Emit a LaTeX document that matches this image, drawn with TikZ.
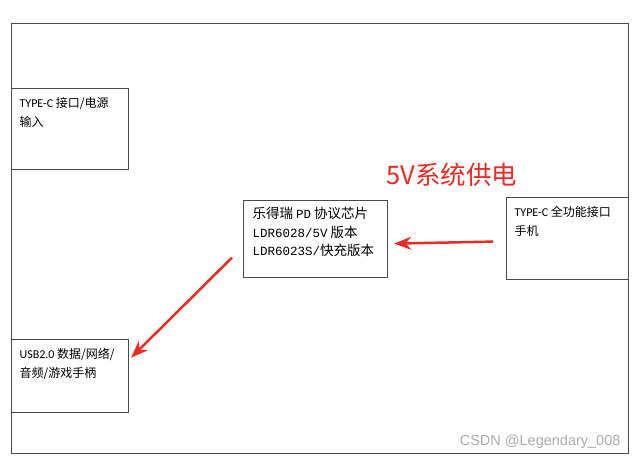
\documentclass[tikz,border=0pt]{standalone}
\usepackage{fontspec}
\setmainfont{Carlito}
\newfontfamily\cjk{Noto Sans CJK SC}
\newfontfamily\mono{Liberation Mono}
\newfontfamily\wmark{Liberation Sans}
\usetikzlibrary{arrows.meta}
\definecolor{linegray}{HTML}{4A4A4A}
\definecolor{powerred}{HTML}{EC2B24}

\begin{document}
\begin{tikzpicture}[x=1pt, y=-1pt, >=Stealth,
  frame/.style={draw=linegray, line width=1.2pt, inner sep=0pt},
  box/.style={draw=linegray, line width=1.2pt, anchor=north west, inner xsep=8pt, inner ysep=9pt, font=\fontsize{12}{19}\selectfont},
  chip/.style={box, inner xsep=9pt, inner ysep=7pt, font=\fontsize{13.5}{18.5}\selectfont},
  power/.style={draw=powerred, line width=2.5pt, -{Stealth[length=17pt,width=13pt]}}]
  \useasboundingbox (0,0) rectangle (640,463);
  % board outline
  \node[frame, anchor=north west, minimum width=617, minimum height=430] (board) at (11,23) {};
  % ports and chip
  \node[box] (src) at (11,88)
    {\parbox[c][63pt][t]{101pt}{\raggedright TYPE-C {\cjk 接口/电源}\\{\cjk 输入}}};
  \node[chip] (pd) at (243,200)
    {\parbox[c][63pt][t]{126pt}{\raggedright\cjk 乐得瑞 {\mono\fontsize{12.5}{18.5}\selectfont PD} 协议芯片\\
     {\mono\fontsize{12.5}{18.5}\selectfont LDR6028/5V} 版本\\
     {\mono\fontsize{12.5}{18.5}\selectfont LDR6023S/}快充版本}};
  \node[box] (phone) at (506,197)
    {\parbox[c][64pt][t]{106pt}{\raggedright TYPE-C {\cjk 全功能接口}\\{\cjk 手机}}};
  \node[box] (usb) at (11,339)
    {\parbox[c][55pt][t]{101pt}{\raggedright USB2.0 {\cjk 数据/网络/}\\{\cjk 音频/游戏手柄}}};
  % power label
  \node[font=\cjk\fontsize{25.5}{25.5}\selectfont, text=powerred] (volt) at (452,175) {5V系统供电};
  % arrows
  \draw[power] ([xshift=-13pt, yshift=-3pt]phone.west) -- ([xshift=6pt, yshift=-4.5pt]pd.east);
  \draw[power] ([xshift=-11pt, yshift=-18.5pt]pd.west) -- ([xshift=2pt, yshift=18.5pt]usb.east);
  % watermark
  \node[anchor=south east, text=gray!65, font=\wmark\fontsize{14.5}{14.5}\selectfont] (mark) at (624,452) {CSDN @Legendary\_008};
\end{tikzpicture}
\end{document}
